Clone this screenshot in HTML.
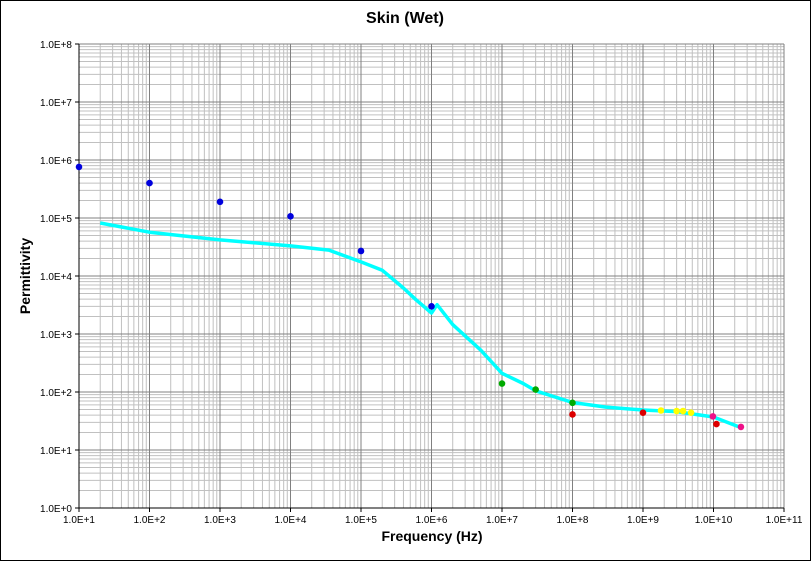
<!DOCTYPE html>
<html><head><meta charset="utf-8"><style>
html,body{margin:0;padding:0;background:#fff}
svg{display:block;font-family:"Liberation Sans",Arial,sans-serif}
</style></head><body>
<svg id="chart" width="811" height="561" viewBox="0 0 811 561">
<rect x="0.5" y="0.5" width="810" height="560" fill="#fff" stroke="#000"/>
<text x="405" y="23" text-anchor="middle" font-size="16" font-weight="bold">Skin (Wet)</text>
<g id="grid"></g>
<g id="axes"></g>
<g id="series"></g>
<text x="432" y="541" text-anchor="middle" font-size="14" font-weight="bold">Frequency (Hz)</text>
<text transform="translate(30,276) rotate(-90)" text-anchor="middle" font-size="14" font-weight="bold">Permittivity</text>
</svg>
<script>
const xTickLabels=["1.0E+1","1.0E+2","1.0E+3","1.0E+4","1.0E+5","1.0E+6","1.0E+7","1.0E+8","1.0E+9","1.0E+10","1.0E+11"];
const yTickLabels=["1.0E+0","1.0E+1","1.0E+2","1.0E+3","1.0E+4","1.0E+5","1.0E+6","1.0E+7","1.0E+8"];
const lineFreq=[20,100,1e3,1e4,3.5e4,1e5,2e5,4e5,6e5,1e6,1.2e6,2e6,5e6,1e7,2e7,3e7,1e8,3e8,1e9,3e9,1e10,2.5e10];
const lineVal=[8.2e4,5.7e4,4.2e4,3.3e4,2.8e4,1.75e4,1.26e4,6.2e3,3.9e3,2.3e3,3.2e3,1.45e3,525,210,140,105,66,55,49,46,37,24];
const blueFreq=[10,100,1e3,1e4,1e5,1e6];
const blueVal=[7.6e5,4e5,1.9e5,1.07e5,2.7e4,3e3];
const greenFreq=[1e7,3e7,1e8];
const greenVal=[140,110,65];
const redFreq=[1e8,1e9,1.1e10];
const redVal=[41,44,28];
const yellowFreq=[1.8e9,3e9,3.7e9,4.8e9];
const yellowVal=[48,47,47,44];
const magentaFreq=[9.8e9,2.45e10];
const magentaVal=[38,25];

const NS="http://www.w3.org/2000/svg";
const X0=79,X1=784,Y0=508,Y1=44;
const xs=v=>X0+(Math.log10(v)-1)/10*(X1-X0);
const ys=v=>Y0-Math.log10(v)/8*(Y0-Y1);
function mk(tag,attrs,parent){const e=document.createElementNS(NS,tag);for(const k in attrs)e.setAttribute(k,attrs[k]);parent.appendChild(e);return e;}
const grid=document.getElementById('grid'),axes=document.getElementById('axes'),ser=document.getElementById('series');
for(let d=1;d<11;d++)for(let m=2;m<10;m++){const x=xs(m*Math.pow(10,d));
const l=mk('line',{x1:x,x2:x,y1:Y1,y2:Y0,stroke:'#c0c0c0','stroke-width':1},grid);

}
for(let d=0;d<8;d++)for(let m=2;m<10;m++){const y=ys(m*Math.pow(10,d));
const l=mk('line',{x1:X0,x2:X1,y1:y,y2:y,stroke:'#c0c0c0','stroke-width':1},grid);

}
xTickLabels.forEach((t,i)=>{const x=xs(Math.pow(10,i+1));
if(i>0){const l=mk('line',{x1:x,x2:x,y1:Y1,y2:Y0,stroke:'#808080','stroke-width':1},grid);

}
const tk=mk('line',{x1:x,x2:x,y1:Y0,y2:Y0+4,stroke:'#000'},axes);


const tx=mk('text',{x:x,y:Y0+15,'text-anchor':'middle','font-size':10},axes);tx.textContent=t;

});
yTickLabels.forEach((t,i)=>{const y=ys(Math.pow(10,i));
if(i>0){const l=mk('line',{x1:X0,x2:X1,y1:y,y2:y,stroke:'#808080','stroke-width':1},grid);

}
const tk=mk('line',{x1:X0-4,x2:X0,y1:y,y2:y,stroke:'#000'},axes);


const tx=mk('text',{x:X0-7,y:y+4,'text-anchor':'end','font-size':10},axes);tx.textContent=t;

});
const ax=mk('path',{d:`M${X0},${Y1}V${Y0}H${X1}`,fill:'none',stroke:'#000'},axes);


const pts=lineFreq.map((f,i)=>xs(f).toFixed(1)+','+ys(lineVal[i]).toFixed(1)).join(' ');
const pl=mk('polyline',{points:pts,fill:'none',stroke:'#00ffff','stroke-width':3.5,'stroke-linejoin':'round'},ser);


function dots(fr,vals,color,name){fr.forEach((f,i)=>{const c=mk('circle',{cx:xs(f),cy:ys(vals[i]),r:3.3,fill:color},ser);

});}
dots(blueFreq,blueVal,'#0000dd','blue-point');
dots(greenFreq,greenVal,'#00aa00','green-point');
dots(redFreq,redVal,'#dd0000','red-point');
dots(yellowFreq,yellowVal,'#ffff00','yellow-point');
dots(magentaFreq,magentaVal,'#ee1188','magenta-point');
</script>
</body></html>
